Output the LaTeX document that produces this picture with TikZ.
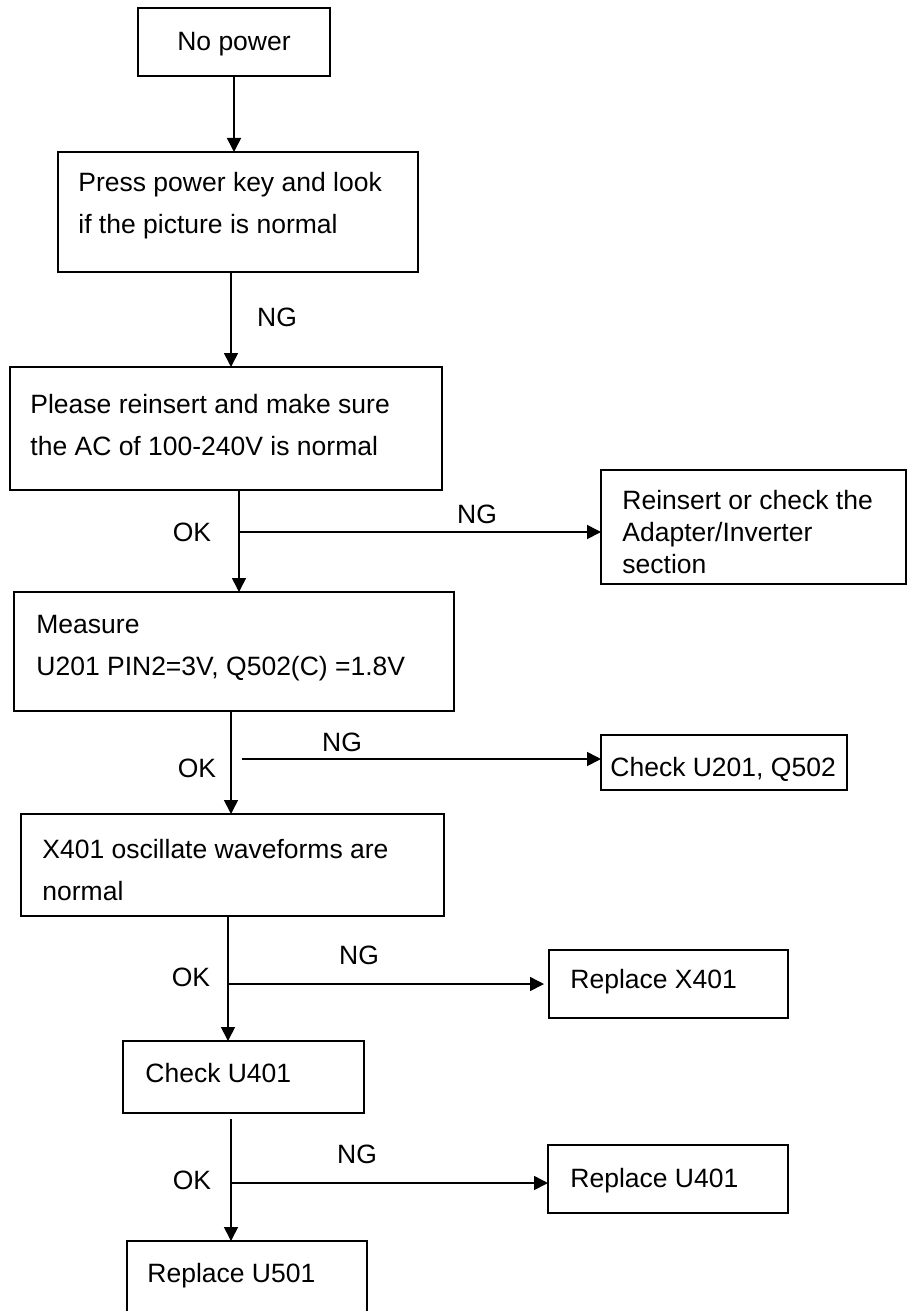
\documentclass[tikz,border=0pt]{standalone}
\usepackage{fontspec}
\setmainfont{Liberation Sans}
\usetikzlibrary{arrows.meta}
\begin{document}
\begin{tikzpicture}[x=0.5pt,y=-0.5pt,
  box/.style={draw,line width=0.8pt,anchor=north west,inner sep=0,outer sep=0},
  txt/.style={anchor=west,inner sep=0,align=left,font=\fontsize{13.25}{21}\selectfont},
  one/.style={anchor=west,inner sep=0,text height=9.5pt,text depth=0pt,font=\fontsize{13.25}{16}\selectfont},
  lbl/.style={one,anchor=center},
  arr/.style={line width=0.8pt,-{Triangle[length=7pt,width=7pt]}}]
\useasboundingbox (0,0) rectangle (907,1311);
% boxes
\node[box,minimum width=96pt,minimum height=34pt](nopower)at(138,8){};
\node[box,minimum width=180pt,minimum height=60pt](press)at(58,152){};
\node[box,minimum width=216pt,minimum height=61.5pt](reinsert)at(10,367){};
\node[box,minimum width=152.5pt,minimum height=57pt](adapter)at(601,470){};
\node[box,minimum width=220pt,minimum height=59.5pt](measure)at(14,592){};
\node[box,minimum width=123pt,minimum height=27.5pt](chk502)at(601,735){};
\node[box,minimum width=211.5pt,minimum height=51pt](x401)at(21,814){};
\node[box,minimum width=119.5pt,minimum height=34pt](repx)at(549,950){};
\node[box,minimum width=120.5pt,minimum height=36pt](chk401)at(123,1041){};
\node[box,minimum width=120pt,minimum height=34pt](repu401)at(548,1145){};
\node[box,minimum width=120pt,minimum height=40pt](repu501)at(127,1241){};
% texts
\node[lbl](tnopower)at(234,41){No power};
\node[txt](tpress)at(78,206){Press power key and look\\if the picture is normal};
\node[txt](treinsert)at(30,425){Please reinsert and make sure\\the AC of 100-240V is normal};
\node[txt,font=\fontsize{13.25}{16}\selectfont](tadapter)at(622,532){Reinsert or check the\\Adapter/Inverter\\section};
\node[txt](tmeasure)at(36,648){Measure\\U201 PIN2=3V, Q502(C) =1.8V};
\node[one](tchk502)at(610,767){Check U201, Q502};
\node[txt](tx401)at(42,870){X401 oscillate waveforms are\\normal};
\node[one](trepx)at(570,979){Replace X401};
\node[one](tchk401)at(145,1073){Check U401};
\node[one](trepu401)at(570,1178){Replace U401};
\node[one](trepu501)at(147,1273){Replace U501};
% labels
\node[lbl](ng1)at(277,317){NG};
\node[lbl](ok1)at(192,532){OK};\node[lbl](ng2)at(477,514){NG};
\node[lbl](ok2)at(197,768){OK};\node[lbl](ng3)at(342,742){NG};
\node[lbl](ok3)at(191,977){OK};\node[lbl](ng4)at(359,955){NG};
\node[lbl](ok4)at(192,1180){OK};\node[lbl](ng5)at(357,1154){NG};
% branch points
\coordinate(j1)at(239,532);\coordinate(j2)at(242,759);
\coordinate(j3)at(228,984);\coordinate(j4)at(231,1183);
% connectors
\draw[arr](nopower.south)--(nopower.south|-press.north);
\draw[arr]([xshift=-3.5pt]press.south)--([xshift=-3.5pt]press.south|-reinsert.north);
\draw[arr]([xshift=6.5pt]reinsert.south)--([xshift=6.5pt]reinsert.south|-measure.north);
\draw[arr](j1)--(j1-|adapter.west);
\draw[arr]([xshift=-1.5pt]measure.south)--([xshift=-1.5pt]measure.south|-x401.north);
\draw[arr](j2)--(j2-|chk502.west);
\draw[arr]([xshift=-2.25pt]x401.south)--([xshift=-2.25pt]x401.south|-chk401.north);
\draw[arr,shorten >=2.5pt](j3)--(j3-|repx.west);
\draw[arr]([xshift=-6.25pt,yshift=-3pt]chk401.south)--([xshift=-6.25pt]chk401.south|-repu501.north);
\draw[arr](j4)--(j4-|repu401.west);
\end{tikzpicture}
\end{document}
